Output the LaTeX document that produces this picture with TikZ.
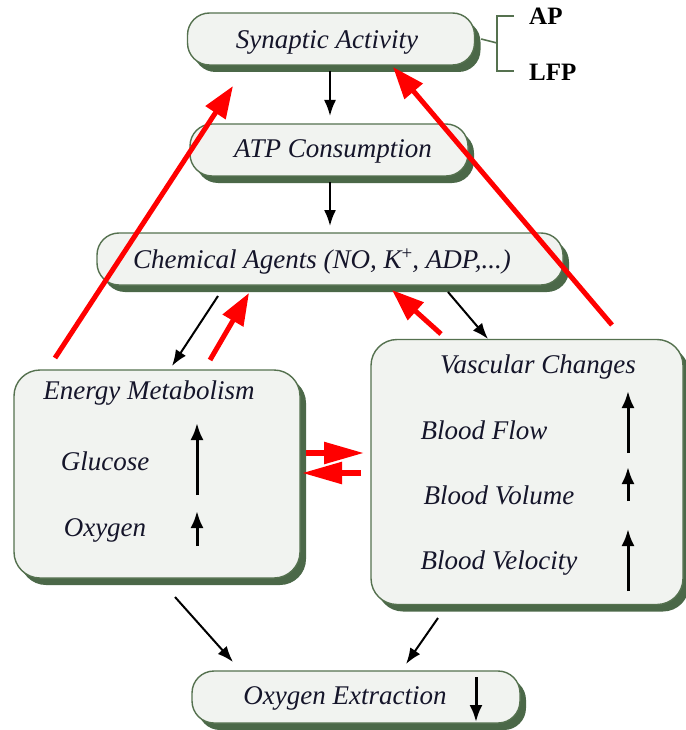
\documentclass[tikz,border=0pt]{standalone}
\usepackage{fontspec}
\setmainfont{Liberation Serif}
\usetikzlibrary{shadows,arrows.meta}
\definecolor{boxfill}{HTML}{F1F3F0}
\definecolor{boxline}{HTML}{55714F}
\definecolor{boxshade}{HTML}{4B6848}
\definecolor{flowred}{HTML}{FF0000}
\definecolor{ink}{HTML}{15152A}
\begin{document}
\begin{tikzpicture}[x=1pt,y=-1pt,
  box/.style={draw=boxline, line width=1.4pt, fill=boxfill, rounded corners=22pt, inner sep=0pt,
    drop shadow={shadow xshift=6pt, shadow yshift=-7pt, fill=boxshade, opacity=1}},
  lbl/.style={font=\fontsize{27}{30}\selectfont\itshape, text=ink, inner sep=0pt},
  tag/.style={font=\fontsize{25}{28}\selectfont\bfseries, inner sep=0pt, anchor=west},
  flow/.style={line width=2pt, -{Latex[length=16pt,width=12pt]}},
  rise/.style={line width=3pt, -{Latex[length=17pt,width=13pt]}},
  feed/.style={draw=flowred, line width=5pt, -{Triangle[length=32pt,width=23pt]}, flowred},
  swap/.style={draw=flowred, line width=5.5pt, -{Triangle[length=40pt,width=21pt]}, flowred}
]
\useasboundingbox (0,0) rectangle (685,730);

% main boxes
\node[box, minimum width=287pt, minimum height=52pt] (syn) at (331,39) {};
\node[lbl] at (327,42) {Synaptic Activity};
\node[box, minimum width=278pt, minimum height=52pt] (atp) at (329,150) {};
\node[lbl] at (333,151) {ATP Consumption};
\node[box, minimum width=466pt, minimum height=52pt] (chem) at (330,259) {};
\node[lbl] at (322,262) {Chemical Agents (NO, K\raisebox{9pt}{\fontsize{19}{19}\selectfont\upshape +}, ADP,...)};
\node[box, rounded corners=26pt, minimum width=286pt, minimum height=208pt] (energy) at (157,474) {};
\node[box, rounded corners=26pt, minimum width=312pt, minimum height=265pt] (vasc) at (527,472) {};
\node[box, minimum width=328pt, minimum height=52pt] (oxy) at (356,697) {};

% contents of the metabolism box
\node[lbl] (emt) at (149,393) {Energy Metabolism};
\node[lbl] (glu) at (105,461) {Glucose};
\node[lbl] (oxg) at (105,530) {Oxygen};
\coordinate (gluA) at (197,495); \coordinate (gluB) at (197,423);
\coordinate (oxgA) at (197,546); \coordinate (oxgB) at (197,511);
\draw[rise] (gluA) -- (gluB);
\draw[rise] (oxgA) -- (oxgB);

% contents of the vascular box
\node[lbl] (vct) at (538,367) {Vascular Changes};
\node[lbl] (bfl) at (484,430) {Blood Flow};
\node[lbl] (bvo) at (499,495) {Blood Volume};
\node[lbl] (bve) at (499,563) {Blood Velocity};
\coordinate (bflA) at (628,453); \coordinate (bflB) at (628,391);
\coordinate (bvoA) at (628,501); \coordinate (bvoB) at (628,467);
\coordinate (bveA) at (628,591); \coordinate (bveB) at (628,529);
\draw[rise] (bflA) -- (bflB);
\draw[rise] (bvoA) -- (bvoB);
\draw[rise] (bveA) -- (bveB);

% oxygen extraction label and its falling arrow
\node[lbl] (oxt) at (345,698) {Oxygen Extraction};
\coordinate (oxtA) at (476,677); \coordinate (oxtB) at (476,722);
\draw[rise] (oxtA) -- (oxtB);

% AP / LFP bracket
\node[tag] (ap) at (529,16) {AP};
\node[tag] (lfp) at (529,72) {LFP};
\coordinate (bm) at (497,43);
\coordinate (bt) at (514,16);
\coordinate (bb) at (514,71);
\draw[boxline, line width=1.6pt] ([xshift=6pt]syn.east) -- (bm);
\draw[boxline, line width=1.6pt] (bt) -| (bm) |- (bb);

% black signalling arrows
\coordinate (s2aA) at (330,71); \coordinate (s2aB) at (330,116);
\coordinate (a2cA) at (330,182); \coordinate (a2cB) at (330,226);
\draw[flow] (s2aA) -- (s2aB);
\draw[flow] (a2cA) -- (a2cB);
\coordinate (c2eA) at (218,296); \coordinate (c2eB) at (172,366);
\draw[flow] (c2eA) -- (c2eB);
\coordinate (c2vA) at (448,292); \coordinate (c2vB) at (488,339);
\draw[flow] (c2vA) -- (c2vB);
\coordinate (e2oA) at (175,597); \coordinate (e2oB) at (233,662);
\draw[flow] (e2oA) -- (e2oB);
\coordinate (v2oA) at (438,618); \coordinate (v2oB) at (406,664);
\draw[flow] (v2oA) -- (v2oB);

% red feedback arrows
\coordinate (fe1) at (55,358);  \coordinate (fe1t) at (233,86);
\coordinate (fv1) at (612,325); \coordinate (fv1t) at (393,67);
\coordinate (fe2) at (210,360); \coordinate (fe2t) at (249,293);
\coordinate (fv2) at (441,334); \coordinate (fv2t) at (392,290);
\draw[feed] (fe1) -- (fe1t);
\draw[feed] (fv1) -- (fv1t);
\draw[feed] (fe2) -- (fe2t);
\draw[feed] (fv2) -- (fv2t);
\coordinate (hrA) at (306,453); \coordinate (hrB) at (364,453);
\coordinate (hlA) at (361,473); \coordinate (hlB) at (302,473);
\draw[swap] (hrA) -- (hrB);
\draw[swap] (hlA) -- (hlB);
\end{tikzpicture}
\end{document}
